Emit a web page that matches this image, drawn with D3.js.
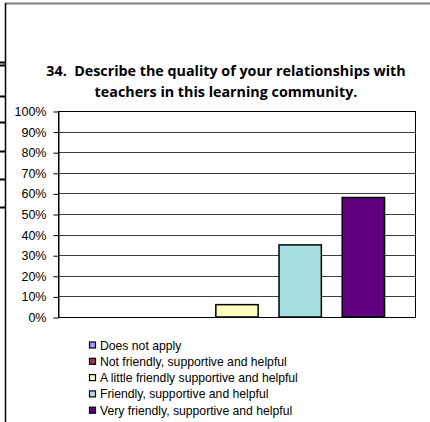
<!DOCTYPE html>
<html><head><meta charset="utf-8">
<script src="https://cdn.jsdelivr.net/npm/d3@7"></script>
<style>body{margin:0;background:#fff}svg{display:block}</style>
</head><body>
<script>
const categories = ["Does not apply","Not friendly, supportive and helpful","A little friendly supportive and helpful","Friendly, supportive and helpful","Very friendly, supportive and helpful"];
const values = [0, 0, 6, 35, 58];
const colors = ["#9999ff","#993366","#ffffc0","#a6e0e0","#600080"];
const yTicks = [0,10,20,30,40,50,60,70,80,90,100];
const titleLines = ["34.  Describe the quality of your relationships with","teachers in this learning community."];

(function(){
const W = 430, H = 422;
const svg = d3.select("body").append("svg").attr("width", W).attr("height", H);

// frame
svg.append("line").attr("x1",5).attr("x2",430).attr("y1",3.5).attr("y2",3.5).attr("stroke","#808080").attr("stroke-width",2);
svg.append("line").attr("x1",5.5).attr("x2",5.5).attr("y1",3).attr("y2",422).attr("stroke","#000").attr("stroke-width",1.5);
[62,65,96,122,151,179,207].forEach(yy=>{
  svg.append("line").attr("x1",0).attr("x2",5).attr("y1",yy+0.5).attr("y2",yy+0.5).attr("stroke","#000").attr("stroke-width",2);
});

// title
svg.append("g").selectAll("text").data(titleLines).join("text")
  .attr("x",226).attr("y",(d,i)=>76+i*21).attr("text-anchor","middle")
  .style("white-space","pre")
  .attr("font-family","'Open Sans', Lato, sans-serif").attr("font-weight","bold").attr("font-size",14.3)
  .attr("fill","#000").text(d=>d);

const pl = 58.5, pr = 415.5, pt = 111, pb = 317;
const y = d3.scaleLinear().domain([0,100]).range([pb, pt]);
const x = d3.scaleBand().domain(categories).range([pl, pr]).paddingInner(0.33).paddingOuter(0.49);

// gridlines
svg.append("g").selectAll("line").data(yTicks).join("line")
  .attr("x1",pl).attr("x2",pr)
  .attr("y1",d=>Math.round(y(d))+0.5).attr("y2",d=>Math.round(y(d))+0.5)
  .attr("stroke","#404040").attr("stroke-width",1);

// plot border
svg.append("rect").attr("x",pl).attr("y",Math.round(pt)+0.5).attr("width",pr-pl).attr("height",Math.round(pb)-Math.round(pt))
  .attr("fill","none").attr("stroke","#000").attr("stroke-width",1);

// y axis
const yAxis = d3.axisLeft(y).tickValues(yTicks).tickFormat(d=>d+"%").tickSize(5).tickSizeOuter(0);
const ga = svg.append("g").attr("transform",`translate(${pl},0.5)`).call(yAxis);
ga.select(".domain").attr("stroke","#000");
ga.selectAll(".tick line").attr("stroke","#000");
ga.selectAll(".tick text").attr("font-family","'Liberation Sans', Arial, sans-serif").attr("font-size",12.5).attr("fill","#000").attr("x",-12);

// bars
svg.append("g").selectAll("rect").data(values).join("rect")
  .attr("x",(d,i)=>x(categories[i])).attr("width",x.bandwidth())
  .attr("y",d=>y(d)).attr("height",d=>y(0)-y(d))
  .attr("fill",(d,i)=>colors[i]).attr("stroke","#000").attr("stroke-width",1.5)
  .attr("display",d=>d>0?null:"none");

// legend
const lg = svg.append("g").selectAll("g").data(categories).join("g")
  .attr("transform",(d,i)=>`translate(89,${345+i*16.3})`);
lg.append("rect").attr("x",0.5).attr("y",-3).attr("width",6).attr("height",6)
  .attr("fill",(d,i)=>colors[i]).attr("stroke","#000").attr("stroke-width",1.2);
lg.append("text").attr("x",11).attr("y",4.5).attr("font-family","'Liberation Sans', Arial, sans-serif")
  .attr("font-size",12.2).attr("fill","#000").text(d=>d);
})();
</script>
</body></html>
